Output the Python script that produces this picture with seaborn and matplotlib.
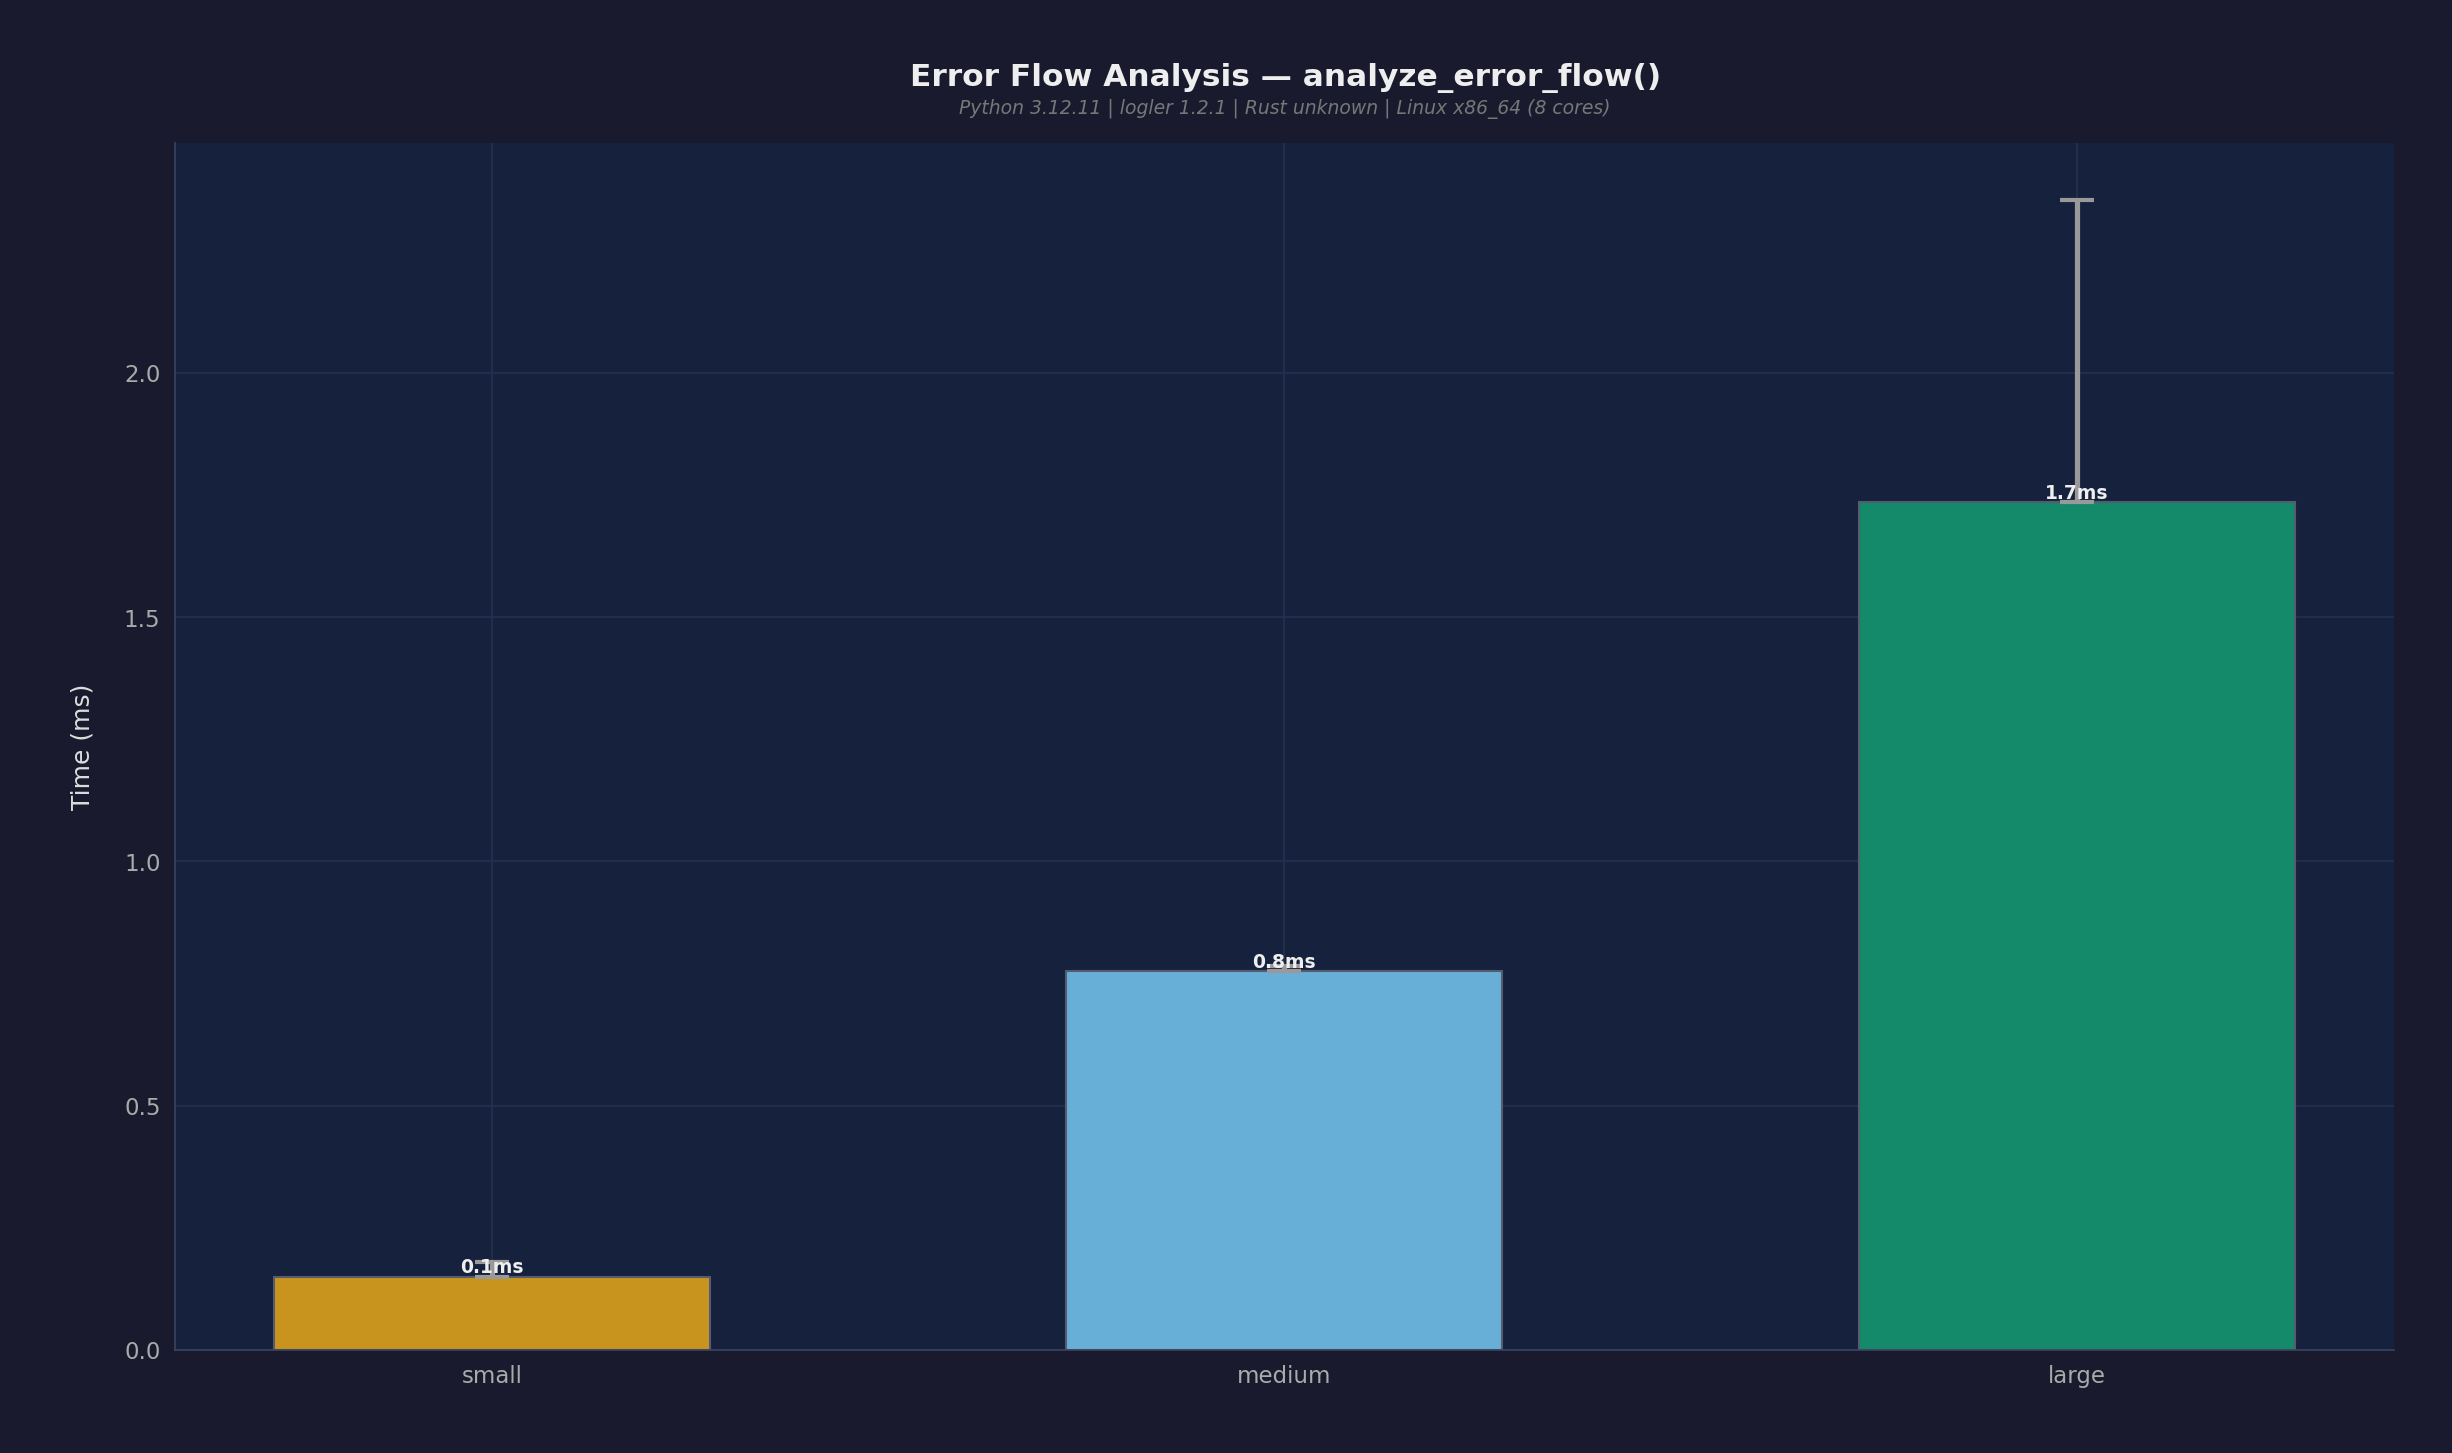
import matplotlib
matplotlib.use("Agg")
import matplotlib.pyplot as plt
import seaborn as sns
import pandas as pd

sizes = ["small", "medium", "large"]
times_ms = [0.15, 0.775, 1.735]
err_low = [0.0, 0.0, 0.0]
err_high = [0.03, 0.01, 0.62]
colors = ["#E69F00", "#56B4E9", "#009E73"]

df = pd.DataFrame({"size": sizes, "time": times_ms})

sns.set_style("dark")
plt.rcParams["font.family"] = ["DejaVu Sans"]

fig = plt.figure(figsize=(16.35, 9.69), dpi=150, facecolor="#1a1a2e")
ax = fig.add_axes([0.0714, 0.071, 0.9046, 0.830])
ax.set_facecolor("#16213e")

sns.barplot(data=df, x="size", y="time", hue="size", palette=colors,
            legend=False, width=0.55, edgecolor="#555c70", linewidth=1, ax=ax)
ax.errorbar(range(len(sizes)), times_ms, yerr=[err_low, err_high], fmt="none",
            ecolor="#999999", elinewidth=2.5, capsize=8, capthick=2)

for i, v in enumerate(times_ms):
    ax.text(i, v, f"{v:.1f}ms", ha="center", va="bottom", color="#eeeeee",
            fontsize=9, fontweight="bold")

ax.set_xlim(-0.40, 2.40)
ax.set_ylim(0, 2.47)
ax.set_yticks([0, 0.5, 1.0, 1.5, 2.0])
ax.grid(True, color="#24304d", linewidth=0.8)
ax.set_axisbelow(True)
ax.set_xlabel("")
ax.set_ylabel("Time (ms)", color="#dddddd", fontsize=12, labelpad=14)
ax.tick_params(colors="#aaaaaa", labelsize=11)
for s in ["top", "right"]:
    ax.spines[s].set_visible(False)
for s in ["left", "bottom"]:
    ax.spines[s].set_color("#3a4460")

fig.text(0.524, 0.946, "Error Flow Analysis — analyze_error_flow()", ha="center",
         va="center", color="#eeeeee", fontsize=15, fontweight="bold")
fig.text(0.524, 0.925, "Python 3.12.11 | logler 1.2.1 | Rust unknown | Linux x86_64 (8 cores)",
         ha="center", va="center", color="#777777", fontsize=9, style="italic")

fig.savefig("out.png", dpi=150, facecolor=fig.get_facecolor())
